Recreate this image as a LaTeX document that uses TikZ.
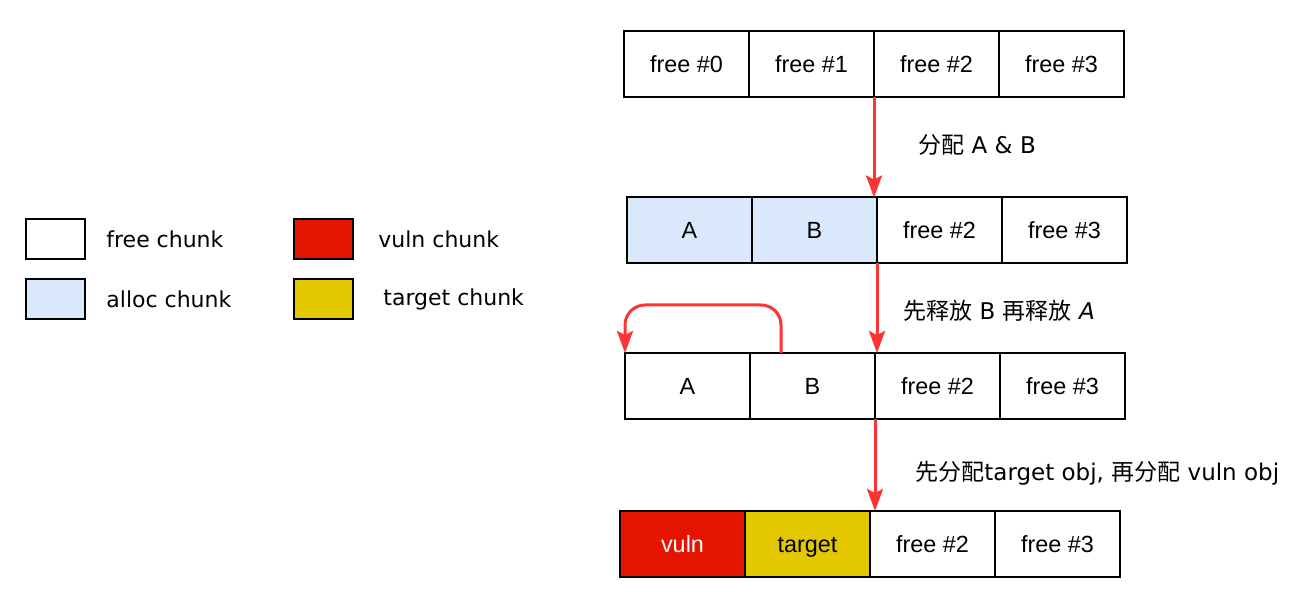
\documentclass[tikz,border=0pt]{standalone}
\usepackage{fontspec}
\setmainfont{Liberation Sans}
\newfontfamily\cjk{Noto Sans CJK SC}
\newfontfamily\hand{DejaVu Sans}
\usetikzlibrary{positioning,arrows.meta}

\definecolor{allocblue}{HTML}{DAE8FC}
\definecolor{vulnred}{HTML}{E51400}
\definecolor{targetyellow}{HTML}{E3C800}
\definecolor{flowred}{HTML}{FF3333}

\begin{document}
\begin{tikzpicture}[x=0.5pt, y=-0.5pt,
    chunk/.style={draw, line width=1pt, minimum width=62.5pt, minimum height=33pt,
      inner sep=0pt, outer sep=0pt, text height=8.5pt, text depth=0pt,
      font=\fontsize{11.7}{14}\selectfont},
    alloc/.style={chunk, fill=allocblue},
    vuln/.style={chunk, fill=vulnred, text=white},
    target/.style={chunk, fill=targetyellow},
    key/.style={draw, line width=1pt, minimum width=29.5pt, minimum height=20pt,
      inner sep=0pt, outer sep=0pt},
    keytext/.style={anchor=west, inner sep=0pt, font=\hand\fontsize{11}{14}\selectfont},
    steptext/.style={anchor=west, inner sep=0pt, font=\hand\fontsize{11.5}{14}\selectfont},
    flow/.style={draw=flowred, line width=1.5pt,
      -{Stealth[length=11pt, width=8pt, inset=2pt]}}]

    \useasboundingbox (0,0) rectangle (1294,592);

    % Legend
    \node[key] (kfree) at (55.5,239) {};
    \node[key, fill=allocblue] (kalloc) at (55.5,299) {};
    \node[key, fill=vulnred] (kvuln) at (323.5,239) {};
    \node[key, fill=targetyellow] (ktarget) at (323.5,299) {};
    \node[keytext, right=10.5pt of kfree] (lfree) {free chunk};
    \node[keytext, right=10.5pt of kalloc] (lalloc) {alloc chunk};
    \node[keytext, right=12.5pt of kvuln] (lvuln) {vuln chunk};
    \node[keytext, right=15pt of ktarget] (ltarget) {target chunk};

    % Row 1: all free
    \node[chunk] (f0) at (686.5,64) {free \#0};
    \node[chunk, right=0pt of f0] (f1) {free \#1};
    \node[chunk, right=0pt of f1] (f2) {free \#2};
    \node[chunk, right=0pt of f2] (f3) {free \#3};

    % Row 2: A and B allocated
    \node[alloc] (a2) at (689.5,230.5) {A};
    \node[alloc, right=0pt of a2] (b2) {B};
    \node[chunk, right=0pt of b2] (c2) {free \#2};
    \node[chunk, right=0pt of c2] (d2) {free \#3};

    % Row 3: B then A freed
    \node[chunk] (a3) at (687.5,386) {A};
    \node[chunk, right=0pt of a3] (b3) {B};
    \node[chunk, right=0pt of b3] (c3) {free \#2};
    \node[chunk, right=0pt of c3] (d3) {free \#3};

    % Row 4: target then vuln
    \node[vuln] (v4) at (682.5,544) {vuln};
    \node[target, right=0pt of v4] (t4) {target};
    \node[chunk, right=0pt of t4] (c4) {free \#2};
    \node[chunk, right=0pt of c4] (d4) {free \#3};

    % Steps
    \draw[flow] (f1.south east) -- (f1.south east |- b2.north);
    \draw[flow] (b2.south east) -- (b2.south east |- b3.north);
    \draw[flow] (b3.south east) -- (b3.south east |- t4.north);
    \draw[flow, rounded corners=10pt] ([xshift=15.5pt]b3.north west) -- ++(0,-48) -| (a3.north west);

    \node[steptext] (s1) at (918,145) {{\cjk 分配} A \& B};
    \node[steptext] (s2) at (903,311) {{\cjk 先释放} B {\cjk 再释放} \textit{A}};
    \node[steptext] (s3) at (915,473) {{\cjk 先分配}target obj, {\cjk 再分配} vuln obj};

\end{tikzpicture}
\end{document}
